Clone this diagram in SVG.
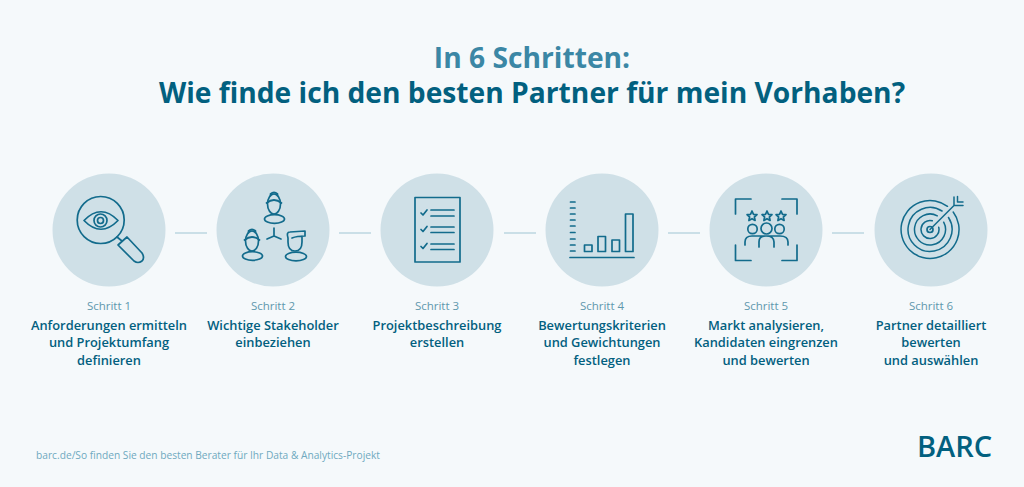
<svg xmlns="http://www.w3.org/2000/svg" width="1024" height="487" viewBox="0 0 1024 487">
<style>
text{font-family:"Open Sans","Noto Sans","Liberation Sans",sans-serif;text-anchor:middle}
.c{fill:#cfe0e7}
.i{fill:none;stroke:#126b8c;stroke-width:1.7;stroke-linecap:round;stroke-linejoin:round}
.s{font-size:11.5px;fill:#5f98ad}
.l{font-size:12.850px;font-weight:600;fill:#02607f}
.k{fill:none;stroke:#9fc6d4;stroke-width:1.2}
</style>
<defs>
<g id="head">
<ellipse class="i" cx="0" cy="0" rx="6.500" ry="10"/>
<path class="i" d="M-7.500 -1Q0 -7 7.500 -1M-3.500 -8.500V-10Q0 -13 3.500 -10V-8.500"/>
<ellipse class="i" cx="0.500" cy="15" rx="10" ry="4.300"/>
</g>
<path id="star" class="i" d="M0 -5L1.500 -1.700L5 -1.300L2.400 1L3.100 4.500L0 2.700L-3.100 4.500L-2.400 1L-5 -1.300L-1.500 -1.700Z"/>
</defs>
<rect width="1024" height="487" fill="#f5f9fb"/>
<text id="title1" x="532" y="68" font-size="28.200" font-weight="700" fill="#3b87a5">In 6 Schritten:</text>
<text id="title2" x="532" y="102.500" font-size="28.200" font-weight="700" fill="#02607f">Wie finde ich den besten Partner für mein Vorhaben?</text>
<g id="connectors">
<path class="k" d="M175 233H207M339 233H371M504 233H536M668 233H700M832 233H864"/>
</g>
<g id="step1">
<circle class="c" cx="109" cy="230" r="56.500"/>
<circle class="i" cx="100.700" cy="220" r="23.500"/>
<path class="i" d="M84 220.500Q101 203 118 220.500Q101 238 84 220.500Z"/>
<circle class="i" cx="100.500" cy="220.500" r="6.500"/><circle class="i" cx="100.500" cy="220.500" r="3"/>
<path class="i" d="M117 237L122 241M118 245L127 237L142 253Q145 258 142 261Q138 264 134 261Z"/>
<text class="s" x="109" y="310">Schritt 1</text>
<text class="l" x="109" y="330">Anforderungen ermitteln</text>
<text class="l" x="109" y="347">und Projektumfang</text>
<text class="l" x="109" y="365">definieren</text>
</g>
<g id="step2">
<circle class="c" cx="273" cy="230" r="56.500"/>
<use href="#head" x="274" y="204"/>
<path class="i" d="M274 228V236M274 236L267 239M274 236L281 239"/>
<use href="#head" x="252" y="241"/>
<path class="i" d="M288 238Q286 232 290 232L305 231V236Q297 236 292 238M288 238V242Q288 251 295 251Q302 251 302 242V236"/>
<ellipse class="i" cx="296" cy="256.500" rx="10.500" ry="4.300"/>
<text class="s" x="273" y="310">Schritt 2</text>
<text class="l" x="273" y="330">Wichtige Stakeholder</text>
<text class="l" x="273" y="347">einbeziehen</text>
</g>
<g id="step3">
<circle class="c" cx="437" cy="230" r="56.500"/>
<rect class="i" x="415" y="197.500" width="45" height="64.500"/>
<path class="i" d="M431 210H454M431 216H454M431 227H454M431 232.500H454M431 244H454M431 249.500H454M421 213L423 215L427 210M421 229.500L423 231.500L427 226.500M421 246.500L423 248.500L427 243.500"/>
<text class="s" x="437" y="310">Schritt 3</text>
<text class="l" x="437" y="330">Projektbeschreibung</text>
<text class="l" x="437" y="347">erstellen</text>
</g>
<g id="step4">
<circle class="c" cx="602" cy="230" r="56.500"/>
<path class="i" d="M570 257.500H634M570.500 202H575M570.500 208H575M570.500 214H575M570.500 220H575M570.500 226H575M570.500 232.500H575M570.500 239H575M570.500 245H575M570.500 251H575"/>
<rect class="i" x="584.500" y="245" width="7.500" height="6.500"/><rect class="i" x="598" y="236.500" width="7.500" height="15"/><rect class="i" x="612" y="240" width="7.500" height="11.500"/><rect class="i" x="625.500" y="214" width="7.500" height="37.500"/>
<text class="s" x="602" y="310">Schritt 4</text>
<text class="l" x="602" y="330">Bewertungskriterien</text>
<text class="l" x="602" y="347">und Gewichtungen</text>
<text class="l" x="602" y="365">festlegen</text>
</g>
<g id="step5">
<circle class="c" cx="766" cy="230" r="56.500"/>
<path class="i" d="M735.500 214V199H751M782 199H797V214M735.500 245V260.500H751M782 260.500H797V245"/>
<use href="#star" x="752" y="216"/><use href="#star" x="767" y="216"/><use href="#star" x="781" y="216"/>
<circle class="i" cx="752.500" cy="229" r="4.700"/><circle class="i" cx="766.500" cy="228.500" r="5.500"/><circle class="i" cx="779.500" cy="229" r="4.700"/>
<path class="i" d="M745 245V242Q745 236 752 236H780Q788 236 788 242V245M759 247V242Q759 236 766 236Q774 236 774 242V247"/>
<text class="s" x="766" y="310">Schritt 5</text>
<text class="l" x="766" y="330">Markt analysieren,</text>
<text class="l" x="766" y="347">Kandidaten eingrenzen</text>
<text class="l" x="766" y="365">und bewerten</text>
</g>
<g id="step6">
<circle class="c" cx="931" cy="230" r="56.500"/>
<path class="i" style="stroke-width:1.500" d="M947.500 206.300A29 29 0 1 0 953.200 212M942 211A22 22 0 1 0 948.500 217.500M937.300 215.800A15.500 15.500 0 1 0 943.700 222.200M932.300 220.800A9 9 0 1 0 938.700 227.200"/>
<circle class="i" cx="930" cy="229.500" r="3"/>
<path class="i" style="stroke-width:1.500" d="M930 229.500L954 205.500M954 205.500V197M954 205.500H963M957.500 202V196.500M957.500 202H963"/>
<text class="s" x="931" y="310">Schritt 6</text>
<text class="l" x="931" y="330">Partner detailliert</text>
<text class="l" x="931" y="347">bewerten</text>
<text class="l" x="931" y="365">und auswählen</text>
</g>
<text id="source" x="208" y="459" font-size="10.200" fill="#6fa9bf">barc.de/So finden Sie den besten Berater für Ihr Data &amp; Analytics-Projekt</text>
<text id="logo" x="954.500" y="457" font-size="29" font-weight="600" fill="#02607f">BARC</text>
</svg>
